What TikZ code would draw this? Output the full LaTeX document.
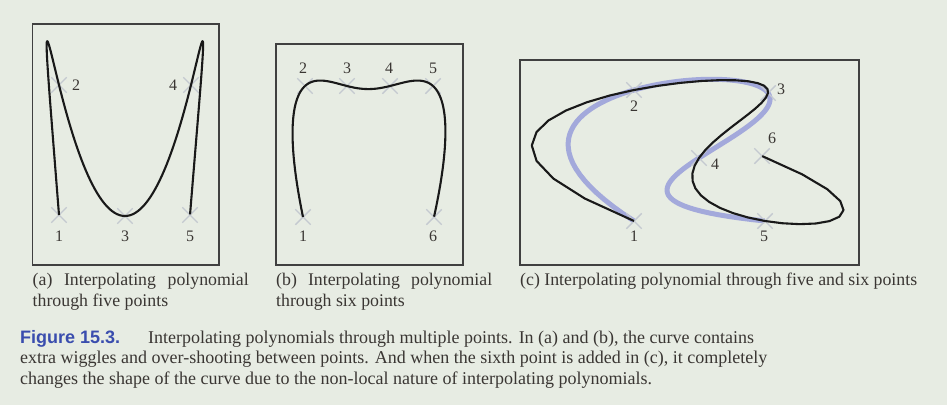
\documentclass[tikz,border=0pt]{standalone}
\usepackage{fontspec}
\setmainfont{Liberation Serif}
\setsansfont{Liberation Sans}
\usetikzlibrary{shapes.misc}

\definecolor{paper}{HTML}{E7ECE3}
\definecolor{inkgray}{HTML}{3A3633}
\definecolor{markgray}{HTML}{C4C9D0}
\definecolor{lavender}{HTML}{A3A9DB}
\definecolor{figblue}{HTML}{3A4DAE}

% Lagrange sums for uniform parameters 0..4 and 0..5
\newcommand{\lagfive}[5]{#1*fivea(\t)+#2*fiveb(\t)+#3*fivec(\t)+#4*fived(\t)+#5*fivee(\t)}
\newcommand{\lagsix}[6]{#1*sixa(\t)+#2*sixb(\t)+#3*sixc(\t)+#4*sixd(\t)+#5*sixe(\t)+#6*sixf(\t)}

\tikzset{
  frame/.style={draw=black!75, line width=1.1pt},
  ptmark/.style={cross out, draw=markgray, line width=1.4pt, minimum size=14pt, inner sep=0pt},
  ptlabel/.style={text=inkgray, font=\fontsize{16}{16}\selectfont, inner sep=0pt},
  curve/.style={line width=2.1pt, line join=round, draw=black!90},
  fivecurve/.style={line width=5pt, draw=lavender, line join=round},
  subcap/.style={text=inkgray, font=\fontsize{17.8}{21}\selectfont, inner sep=0pt, anchor=base west},
  subcapwide/.style={subcap, text width=216pt, align=justify}
}

\begin{document}
\begin{tikzpicture}[x=1pt, y=-1pt,
  declare function={
    fivea(\t)=(\t-1)*(\t-2)*(\t-3)*(\t-4)/24;
    fiveb(\t)=-\t*(\t-2)*(\t-3)*(\t-4)/6;
    fivec(\t)=\t*(\t-1)*(\t-3)*(\t-4)/4;
    fived(\t)=-\t*(\t-1)*(\t-2)*(\t-4)/6;
    fivee(\t)=\t*(\t-1)*(\t-2)*(\t-3)/24;
    sixa(\t)=-(\t-1)*(\t-2)*(\t-3)*(\t-4)*(\t-5)/120;
    sixb(\t)=\t*(\t-2)*(\t-3)*(\t-4)*(\t-5)/24;
    sixc(\t)=-\t*(\t-1)*(\t-3)*(\t-4)*(\t-5)/12;
    sixd(\t)=\t*(\t-1)*(\t-2)*(\t-4)*(\t-5)/12;
    sixe(\t)=-\t*(\t-1)*(\t-2)*(\t-3)*(\t-5)/24;
    sixf(\t)=\t*(\t-1)*(\t-2)*(\t-3)*(\t-4)/120;
  }]
  \fill[paper] (0,0) rectangle (947,405);
  \useasboundingbox (0,0) rectangle (947,405);

  % (a) five points
  \draw[frame] (32.5,24) rectangle (219,265);
  \foreach \n/\px/\py in {1/59/215, 2/59/85, 3/125/216, 4/191/85, 5/190/215}
    \node[ptmark] (a\n) at (\px,\py) {};
  \draw[curve] plot[variable=\t, domain=0:4, samples=121]
    ({\lagfive{59}{59}{125}{191}{190}}, {\lagfive{215}{85}{216}{85}{215}});
  \node[ptlabel] (la1) at (59,236) {1};
  \node[ptlabel] (la2) at (76,85.5) {2};
  \node[ptlabel] (la3) at (125,236) {3};
  \node[ptlabel] (la4) at (173,85.5) {4};
  \node[ptlabel] (la5) at (190,236) {5};
  \node[subcapwide] (capa) at (32.5,285.5) {(a) Interpolating polynomial through five points};

  % (b) six points
  \draw[frame] (276,44) rectangle (463,265);
  \foreach \n/\px/\py in {1/303/217, 2/305/86, 3/347/86, 4/390/86, 5/433/86, 6/434/217}
    \node[ptmark] (b\n) at (\px,\py) {};
  \draw[curve] plot[variable=\t, domain=0:5, samples=151]
    ({\lagsix{303}{305}{347}{390}{433}{434}}, {\lagsix{217}{86}{86}{86}{86}{217}});
  \node[ptlabel] (lb1) at (303,236) {1};
  \node[ptlabel] (lb2) at (303,68.5) {2};
  \node[ptlabel] (lb3) at (347,68.5) {3};
  \node[ptlabel] (lb4) at (389,68.5) {4};
  \node[ptlabel] (lb5) at (433,68.5) {5};
  \node[ptlabel] (lb6) at (433,236) {6};
  \node[subcapwide] (capb) at (276,285.5) {(b) Interpolating polynomial through six points};

  % (c) five vs six points
  \draw[frame] (520,60) rectangle (859,265);
  \draw[fivecurve] plot[variable=\t, domain=0:4, samples=121]
    ({\lagfive{634}{634}{768}{699}{765}}, {\lagfive{221}{90}{93}{158}{221}});
  \foreach \n/\px/\py in {1/634/221, 2/634/90, 3/768/93, 4/699/158, 5/765/221, 6/762/156}
    \node[ptmark] (c\n) at (\px,\py) {};
  \draw[curve] plot[variable=\t, domain=0:5, samples=51]
    ({\lagsix{634}{634}{768}{699}{765}{762}}, {\lagsix{221}{90}{93}{158}{221}{156}});
  \node[ptlabel] (lc1) at (634,236) {1};
  \node[ptlabel] (lc2) at (634,106) {2};
  \node[ptlabel] (lc3) at (781,89) {3};
  \node[ptlabel] (lc4) at (715,164) {4};
  \node[ptlabel] (lc5) at (764,236) {5};
  \node[ptlabel] (lc6) at (772,138) {6};
  \node[subcap] (capc) at (520,285.5) {(c) Interpolating polynomial through five and six points};

  % figure caption (base anchor sits on the last line)
  \node[text=inkgray, font=\fontsize{18}{20.5}\selectfont, align=left, inner sep=0pt, anchor=base west] (figcap) at (20,384)
    {{\sffamily\bfseries\color{figblue}\fontsize{18}{20.5}\selectfont Figure 15.3.}\hspace{28pt}Interpolating polynomials through multiple points. In (a) and (b), the curve contains\\
     extra wiggles and over-shooting between points. And when the sixth point is added in (c), it completely\\
     changes the shape of the curve due to the non-local nature of interpolating polynomials.};
\end{tikzpicture}
\end{document}
